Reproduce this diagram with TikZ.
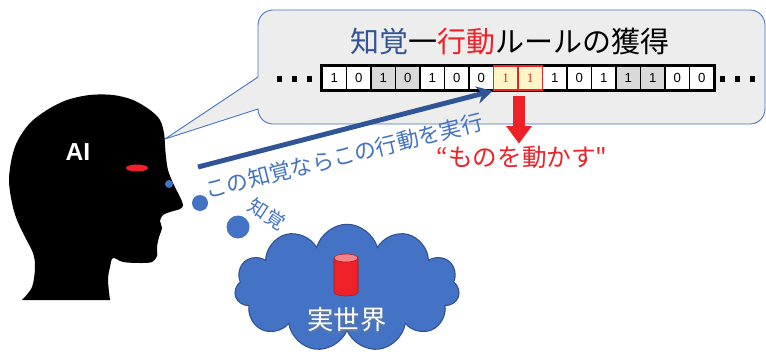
\documentclass[tikz,border=0pt]{standalone}
\usepackage{fontspec}
\setmainfont{Noto Sans CJK JP}[Ligatures=TeXOff]
\newfontfamily\latinsans{Liberation Sans}
\newfontfamily\latinserif{Liberation Serif}
\usetikzlibrary{shapes.symbols, arrows.meta, positioning}

\definecolor{aiblue}{RGB}{47, 85, 151}
\definecolor{skyblue}{RGB}{68, 114, 196}
\definecolor{cloudline}{RGB}{47, 82, 143}
\definecolor{actred}{RGB}{237, 33, 39}
\definecolor{bubblefill}{RGB}{237, 237, 237}
\definecolor{cellgray}{RGB}{217, 217, 217}
\definecolor{hotfill}{RGB}{255, 246, 200}

\begin{document}
\begin{tikzpicture}[x=0.02cm, y=-0.02cm,
        every node/.style={inner sep=1pt},
        bubble/.style={draw=skyblue, line width=0.5pt, fill=bubblefill},
        bit/.style={draw=black, line width=0.9pt, minimum width=0.49cm, minimum height=0.48cm,
            inner sep=0pt, font=\latinsans\fontsize{7.5}{8}\selectfont},
        hotbit/.style={bit, draw=actred, fill=hotfill, line width=1.1pt, text=actred,
            font=\latinserif\fontsize{7.5}{8}\selectfont},
        ruleArr/.style={aiblue, line width=2.8pt, -{Stealth[length=9pt, width=10pt]}},
        actArr/.style={actred, line width=6.5pt, -{Triangle[length=10pt, width=14pt]}},
        drop/.style={circle, fill=skyblue, inner sep=0pt}
    ]
    \useasboundingbox (0,0) rectangle (766,358);

    % Thought bubble with its tail
    \draw[bubble] (165,139) -- (258,77) -- (258,25)
        arc[start angle=180, end angle=270, radius=15] -- (750,10)
        arc[start angle=270, end angle=360, radius=15] -- (765,109)
        arc[start angle=0, end angle=90, radius=15] -- (273,124)
        arc[start angle=90, end angle=180, radius=15] -- cycle;

    % Head
    \fill[black] plot[smooth, tension=0.55] coordinates {
        (22,300) (32,287) (35,267) (33,253) (25,237) (17,220) (12,203) (9,180)
        (12,157) (18,140) (30,123) (47,110) (67,100) (90,95) (113,95) (133,100)
        (150,110) (160,120) (164,133) (165,145) (166,157) (168,170) (173,183)
        (180,197) (183,205) (180,209) (170,212) (163,215) (160,221) (162,228)
        (159,237) (157,247) (157,256) (152,262) (140,263) (123,262) (113,258)
        (110,267) (108,280) (110,300)} -- cycle;
    \node[text=white, font=\latinsans\bfseries\fontsize{14}{16}\selectfont] (ai) at (78,152) {AI};
    \fill[actred] (137,168) ellipse[x radius=11, y radius=3.5];

    % Perception drops
    \node[drop, minimum size=8*0.02cm] (d1) at (169,184) {};
    \node[drop, minimum size=16*0.02cm] (d2) at (200,203) {};
    \node[drop, minimum size=23*0.02cm] (d3) at (238,227) {};
    \node[text=skyblue, rotate=-33, font=\fontsize{11}{12}\selectfont] (perc) at (267,214) {知覚};

    % Title
    \node[font=\fontsize{16.5}{18}\selectfont] (title) at (510,42)
        {{\color{aiblue}知覚}一{\color{actred}行動}ルールの獲得};

    % Bit string
    \foreach \v/\f [count=\i from 0] in {1/white,0/white,1/cellgray,0/cellgray,1/white,0/white,0/white}
        \node[bit, fill=\f] (b\i) at ({334.25+24.5*\i},78) {\v};
    \foreach \v/\f [count=\i from 9] in {1/white,0/white,1/white,1/cellgray,1/cellgray,0/white,0/white}
        \node[bit, fill=\f] (b\i) at ({334.25+24.5*\i},78) {\v};
    \draw[line width=1.4pt] (b0.north west) rectangle (b15.south east);
    \node[hotbit] (b7) at (505.75,78) {1};
    \node[hotbit] (b8) at (530.25,78) {1};

    % ellipsis marks
    \foreach \x in {279,294,309,722,737,752}
        \fill (\x-2.5,76.5) rectangle (\x+2.5,81.5);

    % Rule arrow and its label
    \coordinate (see) at (198,167);
    \draw[ruleArr] (see) -- (b7.south west);
    \node[text=skyblue, rotate=14, font=\fontsize{12.5}{14}\selectfont] (rule) at (344,156)
        {この知覚ならこの行動を実行};

    % Action
    \node[text=actred, font=\fontsize{14}{16}\selectfont] (act) at (522,157) {“ものを動かす"};
    \draw[actArr] ([yshift=-3pt]b7.south east) -- (b7.south east |- act.north);

    % Real world
    \node[cloud, cloud puffs=11, aspect=1.8, minimum width=4.5cm, minimum height=2.55cm,
        fill=skyblue, draw=cloudline, line width=0.6pt] (world) at (347,288) {};
    \fill[actred, draw=actred!70!black, line width=0.3pt]
        (334,258) -- (334,292) arc[start angle=180, end angle=0, x radius=12, y radius=4]
        -- (358,258) -- cycle;
    \fill[actred!55!white, draw=actred!70!black, line width=0.3pt] (346,258) ellipse[x radius=12, y radius=4];
    \node[text=black!50, opacity=0.5, font=\fontsize{15}{17}\selectfont] at (347.8,321.2) {実世界};
    \node[text=white, font=\fontsize{15}{17}\selectfont] (real) at (347,320) {実世界};
\end{tikzpicture}
\end{document}
